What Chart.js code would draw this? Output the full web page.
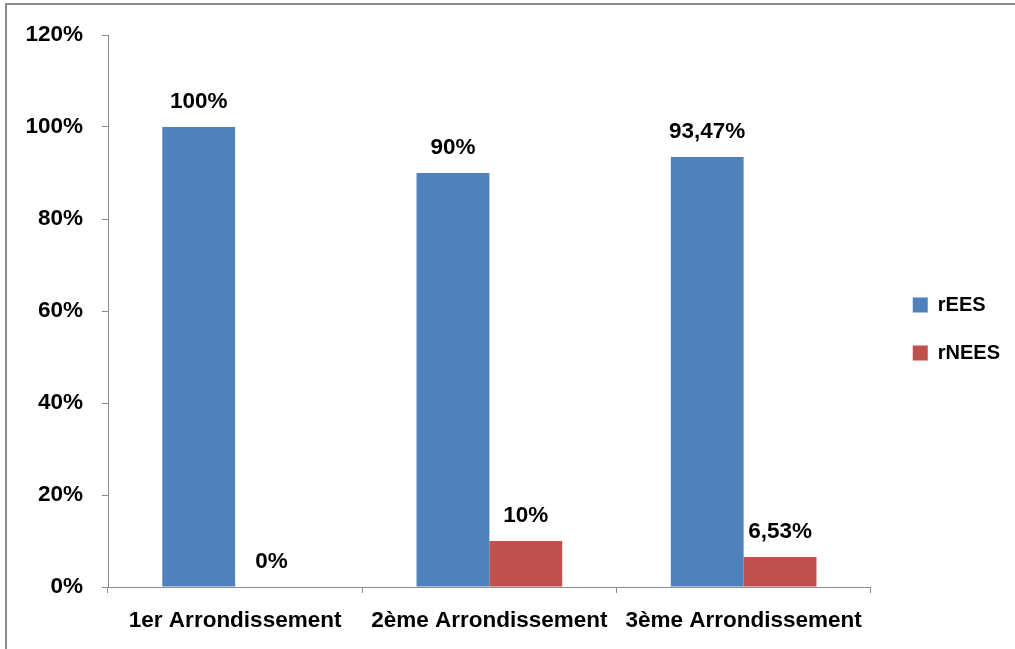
<!DOCTYPE html>
<html>
<head>
<meta charset="utf-8">
<script src="https://cdn.jsdelivr.net/npm/chart.js@4/dist/chart.umd.min.js"></script>
<style>
  html, body { margin: 0; padding: 0; background: #fff; overflow: hidden; }
  #frame { position: absolute; left: 5px; top: 3px; width: 2000px; height: 2000px; border: 2px solid #8c8c8c; }
  #myChart { position: absolute; left: 0; top: 0; }
</style>
</head>
<body>
<div id="frame"></div>
<canvas id="myChart" width="1015" height="649"></canvas>
<script>
const categories = ['1er Arrondissement', '2ème Arrondissement', '3ème Arrondissement'];
const rEES = [100, 90, 93.47];
const rNEES = [0, 10, 6.53];
const yTicks = [0, 20, 40, 60, 80, 100, 120];

const FONT = '"Liberation Sans", Arial, sans-serif';

function fmt(v) {
    return String(v).replace('.', ',') + '%';
}

// valeurs au-dessus des barres
const barLabels = {
    id: 'barLabels',
    afterDatasetsDraw(chart) {
        const ctx = chart.ctx;
        ctx.save();
        ctx.font = 'bold 22.5px ' + FONT;
        ctx.fillStyle = '#000';
        ctx.textAlign = 'center';
        ctx.textBaseline = 'alphabetic';
        chart.data.datasets.forEach((ds, i) => {
            chart.getDatasetMeta(i).data.forEach((bar, j) => {
                ctx.fillText(fmt(ds.data[j]), bar.x, bar.y - 19);
            });
        });
        ctx.restore();
    }
};

// petit décalage de la légende pour coller au modèle
const legendShift = {
    id: 'legendShift',
    afterLayout(chart) {
        chart.legend.left += 14;
        chart.legend.right += 14;
        chart.legend.top -= 13;
        chart.legend.bottom -= 13;
    }
};

let ctx = document.getElementById('myChart').getContext('2d');

let myChart = new Chart(ctx, {
    type: 'bar',
    data: {
        labels: categories,
        datasets: [{
            label: 'rEES',
            data: rEES,
            backgroundColor: '#4F81BD',
            borderWidth: 0
        }, {
            label: 'rNEES',
            data: rNEES,
            backgroundColor: '#C0504D',
            borderWidth: 0
        }]
    },
    options: {
        responsive: false,
        animation: false,
        categoryPercentage: 0.573,
        barPercentage: 1.0,
        layout: {
            padding: { top: 35, bottom: 0, left: 0, right: 19 }
        },
        plugins: {
            tooltip: { enabled: false },
            legend: {
                position: 'right',
                labels: {
                    font: { family: FONT, size: 20, weight: 'bold' },
                    color: '#000',
                    boxWidth: 15,
                    boxHeight: 15,
                    padding: 28
                }
            }
        },
        scales: {
            x: {
                grid: {
                    drawOnChartArea: false,
                    drawTicks: true,
                    tickLength: 6,
                    color: '#8c8c8c'
                },
                border: { color: '#8c8c8c' },
                ticks: {
                    color: '#000',
                    padding: 14,
                    maxRotation: 0,
                    font: { family: FONT, size: 22.5, weight: 'bold' }
                },
                afterFit(scale) { scale.height = 62; }
            },
            y: {
                min: 0,
                max: 120,
                afterBuildTicks(scale) {
                    scale.ticks = yTicks.map(v => ({ value: v }));
                },
                grid: {
                    drawOnChartArea: false,
                    drawTicks: true,
                    tickLength: 6,
                    color: '#8c8c8c'
                },
                border: { color: '#8c8c8c' },
                ticks: {
                    color: '#000',
                    padding: 19,
                    font: { family: FONT, size: 22.5, weight: 'bold' },
                    callback: v => v + '%'
                },
                afterFit(scale) { scale.width = 108; }
            }
        }
    },
    plugins: [barLabels, legendShift]
});
</script>
</body>
</html>
